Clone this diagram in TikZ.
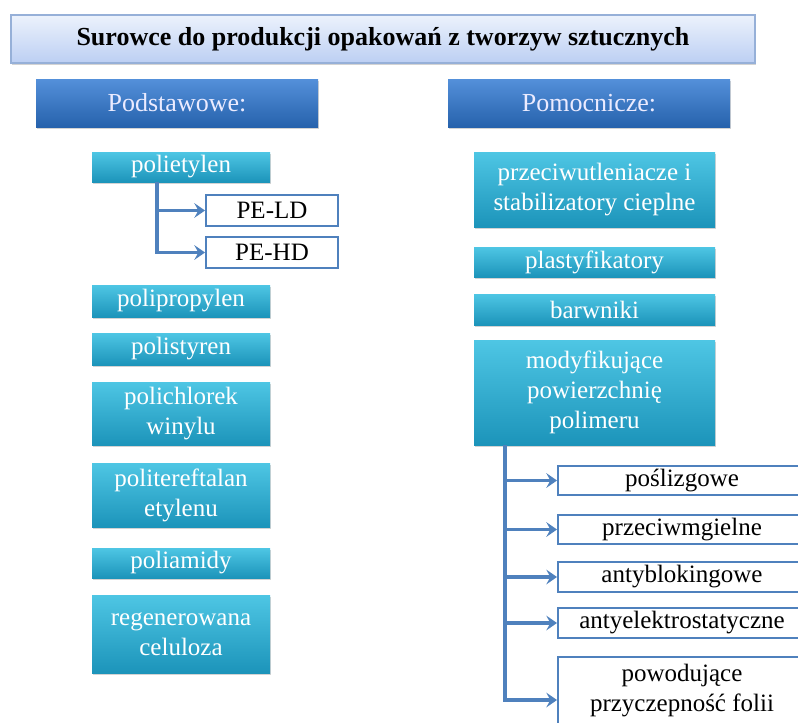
\documentclass[tikz,border=0pt]{standalone}
\usepackage{fontspec}
\setmainfont{Liberation Serif}
\usetikzlibrary{arrows.meta, shadows}

\definecolor{titletop}{RGB}{236,242,252}
\definecolor{titlebot}{RGB}{188,207,243}
\definecolor{titleedge}{RGB}{150,176,216}
\definecolor{grouptop}{RGB}{84,144,218}
\definecolor{groupbot}{RGB}{38,98,172}
\definecolor{itemtop}{RGB}{78,198,228}
\definecolor{itembot}{RGB}{28,148,186}
\definecolor{lineblue}{RGB}{79,129,189}

\tikzset{
  boxshadow/.style={drop shadow={opacity=0.35, shadow xshift=1pt, shadow yshift=-1.5pt}},
  titlebox/.style={draw=titleedge, line width=0.8pt, top color=titletop, bottom color=titlebot,
    boxshadow, inner sep=0pt, minimum width=558pt, minimum height=36pt,
    font=\bfseries\fontsize{19.5}{23}\selectfont},
  groupbox/.style={top color=grouptop, bottom color=groupbot, boxshadow, text=white!92!blue,
    inner sep=0pt, minimum width=211.5pt, minimum height=36pt,
    font=\fontsize{19.5}{23}\selectfont},
  itembox/.style={top color=itemtop, bottom color=itembot, boxshadow, text=white,
    inner sep=0pt, align=center, font=\fontsize{18.75}{22.5}\selectfont},
  leftitem/.style={itembox, minimum width=133.5pt},
  rightitem/.style={itembox, minimum width=180.75pt},
  subbox/.style={draw=lineblue, line width=1.5pt, fill=white, inner sep=0pt, align=center,
    font=\fontsize{18.75}{22.5}\selectfont},
  % prawe pudelka wychodza poza brzeg obrazka, tekst osobno
  cutbox/.style={draw=lineblue, line width=1.5pt, fill=white, anchor=west, minimum width=220pt},
  boxtext/.style={inner sep=0pt, align=center, font=\fontsize{18.75}{22.5}\selectfont},
  conn/.style={draw=lineblue, line width=2.5pt, -{Stealth[length=8pt, width=11pt, inset=3pt]}}
}

\begin{document}
\begin{tikzpicture}[x=0.75pt, y=-0.75pt]
  \useasboundingbox (0,0) rectangle (798,722);

  \node[titlebox] (title) at (383,39) {Surowce do produkcji opakowań z tworzyw sztucznych};

  \node[groupbox] (podst) at (177,103) {Podstawowe:};
  \node[groupbox] (pomoc) at (589,103) {Pomocnicze:};

  % lewa kolumna
  \node[leftitem, minimum height=22.5pt] (pe) at (181,167) {polietylen};
  \node[subbox, minimum width=99pt, minimum height=23.25pt] (peld) at (272,210.5) {PE-LD};
  \node[subbox, minimum width=99pt, minimum height=23.25pt] (pehd) at (272,252.5) {PE-HD};
  \node[leftitem, minimum height=24pt] (pp) at (181,301) {polipropylen};
  \node[leftitem, minimum height=24pt] (ps) at (181,349) {polistyren};
  \node[leftitem, minimum height=47.25pt] (pvc) at (181,413.5) {polichlorek\\winylu};
  \node[leftitem, minimum height=48pt] (pet) at (181,495) {politereftalan\\etylenu};
  \node[leftitem, minimum height=22.5pt] (pa) at (181,563) {poliamidy};
  \node[leftitem, minimum height=58.5pt] (cel) at (181,634) {regenerowana\\celuloza};

  % prawa kolumna
  \node[rightitem, minimum height=56.25pt] (antyox) at (594.5,189.5) {przeciwutleniacze i\\stabilizatory cieplne};
  \node[rightitem, minimum height=22.5pt] (plast) at (594.5,262) {plastyfikatory};
  \node[rightitem, minimum height=23.25pt] (barw) at (594.5,309.5) {barwniki};
  \node[rightitem, minimum height=78.75pt] (modyf) at (594.5,392.5) {modyfikujące\\powierzchnię\\polimeru};

  \node[cutbox, minimum height=21.75pt] (posl) at (557,480.5) {};
  \node[cutbox, minimum height=21.75pt] (mgla) at (557,529.5) {};
  \node[cutbox, minimum height=22.5pt] (blok) at (557,577) {};
  \node[cutbox, minimum height=22.5pt] (elektr) at (557,623) {};
  \node[cutbox, minimum height=64pt] (przycz) at (557,700) {};

  \node[boxtext] (posl text) at (682,480.5) {poślizgowe};
  \node[boxtext] (mgla text) at (682,529.5) {przeciwmgielne};
  \node[boxtext] (blok text) at (682,577) {antyblokingowe};
  \node[boxtext] (elektr text) at (682,623) {antyelektrostatyczne};
  \node[boxtext] (przycz text) at (682,691) {powodujące\\przyczepność folii};

  % polaczenia
  \coordinate (pestem) at (157,182);
  \draw[conn] (pestem) |- (peld);
  \draw[conn] (pestem) |- (pehd);

  \coordinate (modstem) at (505,445);
  \draw[conn] (modstem) |- (posl);
  \draw[conn] (modstem) |- (mgla);
  \draw[conn] (modstem) |- (blok);
  \draw[conn] (modstem) |- (elektr);
  \draw[conn] (modstem) |- (przycz);
\end{tikzpicture}
\end{document}
